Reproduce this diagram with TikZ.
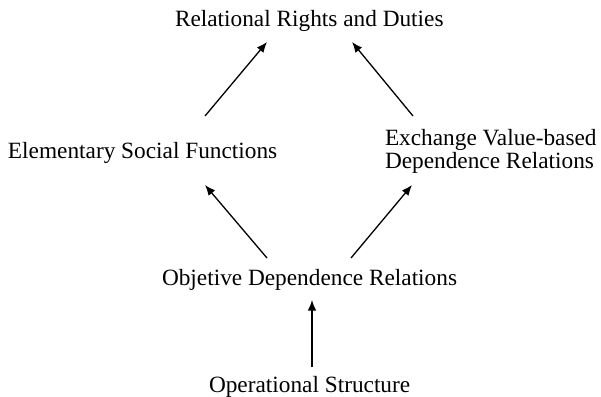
\documentclass[tikz,border=0pt]{standalone}
\usepackage{fontspec}
\setmainfont{Liberation Serif}
\usetikzlibrary{arrows.meta}
\tikzset{
  lbl/.style={inner sep=0pt, outer sep=0pt, anchor=base west, align=left,
    font=\fontsize{23.3}{23}\selectfont},
  link/.style={line width=1.3pt, -{Latex[length=10.5pt,width=8.5pt]}}
}
\begin{document}
\begin{tikzpicture}[x=1pt,y=-1pt]
\useasboundingbox (0,0) rectangle (601,396);
\node[lbl] (rrd) at (175,27) {Relational Rights and Duties};
\node[lbl] (esf) at (8,158) {Elementary Social Functions};
\node[lbl] (evd) at (385,168) {Exchange Value-based\\Dependence Relations};
\node[lbl] (odr) at (162,285) {Objetive Dependence Relations};
\node[lbl] (ops) at (209,392) {Operational Structure};
% arrow endpoints
\coordinate (esf-out) at (205,116);
\coordinate (rrd-inl) at (267,42);
\coordinate (evd-out) at (413,116);
\coordinate (rrd-inr) at (352,42);
\coordinate (odr-outl) at (267,258);
\coordinate (esf-in) at (205,185);
\coordinate (odr-outr) at (351,258);
\coordinate (evd-in) at (412,185);
\coordinate (ops-out) at (312,367);
\coordinate (odr-in) at (312,300);
\draw[link] (esf-out) -- (rrd-inl);
\draw[link] (evd-out) -- (rrd-inr);
\draw[link] (odr-outl) -- (esf-in);
\draw[link] (odr-outr) -- (evd-in);
\draw[link] (ops-out) -- (odr-in);
\end{tikzpicture}
\end{document}
